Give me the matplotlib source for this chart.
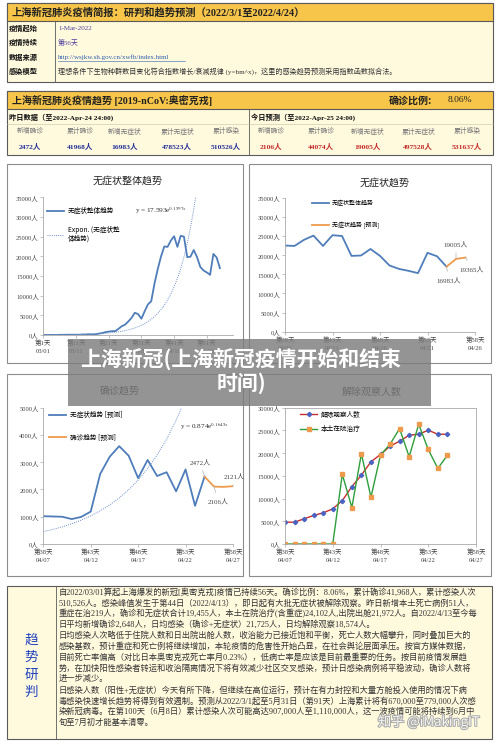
import matplotlib
matplotlib.use("Agg")
import matplotlib.pyplot as plt
from matplotlib.patches import Rectangle
from matplotlib.lines import Line2D
import matplotlib.patheffects as pe
import numpy as np

plt.rcParams['font.family'] = ['Noto Sans CJK SC', 'DejaVu Sans']
plt.rcParams['mathtext.fontset'] = 'stix'
SERIF = ['Liberation Serif', 'Noto Sans CJK SC', 'DejaVu Sans']

# ---------------- data ----------------
BRIEF_TITLE = "上海新冠肺炎疫情简报：研判和趋势预测（2022/3/1至2022/4/24）"
BRIEF_LABELS = ["疫情起始", "疫情持续", "数据来源", "感染模型"]
BRIEF_VALUES = ["1-Mar-2022", "第56天", "http://wsjkw.sh.gov.cn/xwfb/index.html",
                "理想条件下生物种群数目变化符合指数增长/衰减规律 (y=bm^x)，这里的感染趋势预测采用指数函数拟合法。"]
TREND_TITLE = "上海新冠肺炎疫情趋势 [2019-nCoV:奥密克戎]"
RATIO_LABEL = "确诊比例:"
RATIO_VALUE = "8.06%"
YEST_LABEL = "昨日数据（至2022-Apr-24 24:00)"
TODAY_LABEL = "今日预测（至2022-Apr-25 24:00)"
STAT_COLS = ["新增确诊", "累计确诊", "新增无症状", "累计无症状", "累计感染"]
YEST_VALUES = [2472, 41968, 16983, 478523, 510526]
TODAY_VALUES = [2106, 44074, 19005, 497528, 531637]

ASYM_DAYS = list(range(1, 56))
ASYM_VALUES = [1, 2, 3, 16, 0, 45, 51, 62, 76, 64, 78, 64, 128, 130, 197, 150, 203, 366, 492, 734,
               865, 977, 979, 1580, 2231, 2631, 3450, 4381, 5656, 5298, 4144,
               6051, 7788, 8581, 13086, 16766, 19982, 22500, 22400, 24000, 25100, 22400, 25200,
               25000, 19800, 19900, 21600, 19800, 17300, 16400, 15900, 15300, 20600, 19700, 16983]
TREND1_B, TREND1_M = 17.593, 0.1597
ASYM_FC_DAYS = [55, 56, 57]
ASYM_FC_VALUES = [16983, 19005, 19365]

CONF_DAYS = list(range(38, 56))
CONF_VALUES = [1020, 1010, 1000, 914, 994, 1189, 2573, 3200, 3590, 3238, 2417, 3084, 2494,
               2634, 1931, 2736, 1401, 2472]
TREND3_B, TREND3_M = 0.874, 0.1645
CONF_FC_DAYS = [55, 56, 57, 58]
CONF_FC_VALUES = [2472, 2106, 2095, 2121]

REL_DAYS = list(range(38, 56))
REL_VALUES = [4800, 4800, 5550, 6280, 6860, 7740, 9560, 12630, 15180, 18100, 19710, 21540,
              22630, 23940, 24160, 25040, 24160, 24160]
HOSP_VALUES = [0, 0, 0, 0, 0, 0, 15330, 8030, 19860, 10290, 19560, 21970, 25400, 19200,
               26350, 20800, 16640, 19490]

C1_XTICKS = [1, 11, 21, 31, 41, 51]
C1_XLABELS = ["第1天\n03/01", "第11天\n03/11", "第21天\n03/21", "第31天\n03/31", "第41天\n04/10", "第51天\n04/20"]
C2_XTICKS = [38, 43, 48, 53, 58]
C2_XLABELS = ["第38天\n04/06", "第43天\n04/11", "第48天\n04/16", "第53天\n04/21", "第58天\n04/26"]
C34_XLABELS = ["第38天\n04/07", "第43天\n04/12", "第48天\n04/17", "第53天\n04/22", "第58天\n04/27"]
Y_ASYM = [0, 5000, 10000, 15000, 20000, 25000, 30000, 35000]
Y_CONF = [0, 1000, 2000, 3000, 4000, 5000]
Y_REL = [0, 5000, 10000, 15000, 20000, 25000, 30000]

ANALYSIS_LINES = [
    "自2022/03/01算起上海爆发的新冠[奥密克戎]疫情已持续56天。确诊比例：8.06%，累计确诊41,968人，累计感染人次",
    "510,526人。感染峰值发生于第44日（2022/4/13），即日起有大批无症状被解除观察。昨日新增本土死亡病例51人，",
    "重症在治219人，确诊和无症状合计19,455人，本土在院治疗(含重症)24,102人,出院出舱21,972人。自2022/4/13至今每",
    "日平均新增确诊2,648人，日均感染（确诊+无症状）21,725人，日均解除观察18,574人。",
    "日均感染人次略低于住院人数和日出院出舱人数，收治能力已接近饱和平衡，死亡人数大幅攀升，同时叠加巨大的",
    "感染基数，预计重症和死亡例将继续增加，本轮疫情的危害性开始凸显，在社会舆论层面承压。按官方媒体数据，",
    "目前死亡率偏高（对比日本奥密克戎死亡率月0.23%），低病亡率是应该是目前最重要的任务。按目前疫情发展趋",
    "势，在加快阳性感染者转运和收治隔离情况下将有效减少社区交叉感染，预计日感染病例将平稳波动，确诊人数将",
    "进一步减少。",
    "日感染人数（阳性+无症状）今天有所下降，但继续在高位运行，预计在有力封控和大量方舱投入使用的情况下病",
    "毒感染快速增长趋势将得到有效遏制。预测从2022/3/1起至5月31日（第91天）上海累计将有670,000至779,000人次感",
    "染新冠病毒。在第100天（6月8日）累计感染人次可能高达907,000人至1,110,000人，这一波疫情可能将持续到6月中",
    "旬至7月初才能基本清零。",
]
SIDE_LABEL = ["趋", "势", "研", "判"]
OVERLAY_TEXT = "上海新冠(上海新冠疫情开始和结束\n时间)"
WATERMARK = "知乎 @iMakingIT"

# ---------------- layout ----------------
W, H = 500, 746
CREAM = '#FFF9DE'
GOLD = '#F6C54A'
EDGE = '#5a5a5a'
BLUE = '#4F7DBA'
ORANGE = '#EE9A4D'

fig = plt.figure(figsize=(W / 100, H / 100), dpi=100)
fig.patch.set_facecolor('white')
bg = fig.add_axes([0, 0, 1, 1])
bg.set_xlim(0, W); bg.set_ylim(H, 0); bg.axis('off')


def box(ax, x0, y0, x1, y1, fc='none', ec='none', lw=0.8, z=1, alpha=1.0):
    ax.add_patch(Rectangle((x0, y0), x1 - x0, y1 - y0, facecolor=fc, edgecolor=ec,
                           lw=lw, zorder=z, alpha=alpha))


def seg(ax, xs, ys, color=EDGE, lw=0.6):
    ax.add_line(Line2D(xs, ys, color=color, lw=lw, zorder=2))


# ---- panel 1 ----
box(bg, 7, 3, 493, 82, fc=CREAM, ec=EDGE)
box(bg, 7, 3, 493, 21, fc=GOLD, ec=EDGE)
seg(bg, [55, 55], [21, 82])
bg.text(12, 12.5, BRIEF_TITLE, fontsize=7.4, fontweight='bold', va='center', family=SERIF, color='#222', zorder=3)
row_y = [28, 42.5, 57, 71]
val_colors = ['#4B3FA0', '#4B3FA0', '#2F5FB0', '#333333']
for i, (lab, val) in enumerate(zip(BRIEF_LABELS, BRIEF_VALUES)):
    bg.text(9, row_y[i], lab, fontsize=5.2, fontweight='bold', va='center', color='#111', zorder=3)
    bg.text(58, row_y[i], val, fontsize=5.0 if i < 3 else 5.1, va='center', family=SERIF,
            color=val_colors[i], zorder=3)
seg(bg, [58, 185], [60.5, 60.5], color='#2F5FB0', lw=0.4)

# ---- panel 2 ----
box(bg, 7, 91, 493, 155, fc=CREAM, ec=EDGE)
box(bg, 7, 91, 493, 109, fc=GOLD, ec=EDGE)
seg(bg, [249, 249], [109, 155])
seg(bg, [7, 493], [124, 124], color='#c8c0a0', lw=0.4)
bg.text(12, 100.5, TREND_TITLE, fontsize=7.2, fontweight='bold', va='center', family=SERIF, color='#222', zorder=3)
bg.text(389, 100.5, RATIO_LABEL, fontsize=7.2, fontweight='bold', va='center', color='#222', zorder=3)
bg.text(448, 100.5, RATIO_VALUE, fontsize=6.8, va='center', family=SERIF, color='#222', zorder=3)
bg.text(9, 117.5, YEST_LABEL, fontsize=5.2, fontweight='bold', va='center', family=SERIF, color='#111', zorder=3)
bg.text(251, 117.5, TODAY_LABEL, fontsize=5.2, fontweight='bold', va='center', family=SERIF, color='#111', zorder=3)
left_cx = [30, 80, 125, 177, 226]
right_cx = [271, 321, 368, 418, 467]
for i, col in enumerate(STAT_COLS):
    bg.text(left_cx[i], 131.5, col, fontsize=4.9, ha='center', va='center', color='#777', zorder=3)
    bg.text(right_cx[i], 131.5, col, fontsize=4.9, ha='center', va='center', color='#777', zorder=3)
    bg.text(left_cx[i], 147, f"{YEST_VALUES[i]}人", fontsize=5.4, ha='center', va='center',
            family=SERIF, color='#23309A', fontweight='bold', zorder=3)
    bg.text(right_cx[i], 147, f"{TODAY_VALUES[i]}人", fontsize=5.4, ha='center', va='center',
            family=SERIF, color='#C42A28', fontweight='bold', zorder=3)

# ---- chart boxes ----
for (x0, y0, x1, y1) in [(7, 164, 243, 363), (249, 164, 491, 363), (7, 374, 243, 576), (249, 374, 491, 576)]:
    box(bg, x0, y0, x1, y1, fc='white', ec='#8c8c8c', lw=0.8)

titles = [("无症状整体趋势", 128, 181), ("无症状趋势", 385, 183), ("确诊趋势", 120, 391), ("解除观察人数", 372, 392)]
for t, x, y in titles:
    bg.text(x, y, t, fontsize=7.2, ha='center', va='center', color='#222', zorder=3)


def make_chart(x0, x1, ytop, ybot, xlim, ylim, yticks, xticks, xlabels, frame=False):
    ax = fig.add_axes([x0 / W, 1 - ybot / H, (x1 - x0) / W, (ybot - ytop) / H])
    ax.set_facecolor('none')
    ax.set_xlim(*xlim); ax.set_ylim(*ylim)
    ax.set_yticks(yticks)
    ax.set_yticklabels([f"{v}人" for v in yticks])
    ax.set_xticks(xticks)
    ax.set_xticklabels(xlabels)
    ax.spines['top'].set_visible(frame)
    ax.spines['right'].set_visible(frame)
    for s in ax.spines.values():
        s.set_color('#a8a8a8'); s.set_linewidth(0.6)
    ax.tick_params(axis='both', length=2, width=0.5, color='#a8a8a8', labelsize=4.7,
                   labelcolor='#444', pad=1.2)
    for t in ax.get_xticklabels() + ax.get_yticklabels():
        t.set_family(SERIF)
    for t in ax.get_xticklabels():
        t.set_linespacing(1.75)
    return ax


# chart 1
ax1 = make_chart(43.3, 233, 197.3, 335, (1, 59), (0, 35000), Y_ASYM, C1_XTICKS, C1_XLABELS)
l1, = ax1.plot(ASYM_DAYS, ASYM_VALUES, color=BLUE, lw=1.3)
trend1 = [TREND1_B * np.exp(TREND1_M * d) for d in ASYM_DAYS]
l1t, = ax1.plot(ASYM_DAYS, trend1, color='#6f8fc8', lw=0.7, ls=(0, (1, 1.2)))
ax1.legend([l1, l1t], ["无症状整体趋势", "Expon. (无症状整\n体趋势)"], loc='upper left',
           bbox_to_anchor=(47, 207), bbox_transform=bg.transData, frameon=False, fontsize=4.8,
           handlelength=2.6, handletextpad=0.5, labelspacing=1.6, borderpad=0, borderaxespad=0)
bg.text(135, 211, r"y = 17.593e$^{0.1597x}$", fontsize=5.2, va='center', family=SERIF, color='#333', zorder=3)

# chart 2
ax2 = make_chart(285, 475, 197.7, 331.7, (38, 58), (0, 35000), Y_ASYM, C2_XTICKS, C2_XLABELS)
l2, = ax2.plot(ASYM_DAYS[37:], ASYM_VALUES[37:], color=BLUE, lw=1.3)
l2f, = ax2.plot(ASYM_FC_DAYS, ASYM_FC_VALUES, color=ORANGE, lw=1.3)
ax2.legend([l2, l2f], ["无症状整体趋势", "无症状趋势 [预测]"], loc='upper left',
           bbox_to_anchor=(312, 200), bbox_transform=bg.transData, frameon=False, fontsize=4.3,
           handlelength=2.8, handletextpad=0.5, labelspacing=2.6, borderpad=0, borderaxespad=0)
ann_kw = dict(textcoords=bg.transData, fontsize=5, family=SERIF, color='#444', ha='center', va='center',
              arrowprops=dict(arrowstyle='-', color='#b0b0b0', lw=0.5, shrinkA=2, shrinkB=0))
ax2.annotate(f"{ASYM_FC_VALUES[1]}人", xy=(ASYM_FC_DAYS[1], ASYM_FC_VALUES[1]), xytext=(456, 244), **ann_kw)
ax2.annotate(f"{ASYM_FC_VALUES[2]}人", xy=(ASYM_FC_DAYS[2], ASYM_FC_VALUES[2]), xytext=(472, 269), **ann_kw)
ax2.annotate(f"{ASYM_FC_VALUES[0]}人", xy=(ASYM_FC_DAYS[0], ASYM_FC_VALUES[0]), xytext=(449, 280), **ann_kw)

# chart 3
ax3 = make_chart(43.3, 233, 407.7, 544, (38, 58), (0, 5000), Y_CONF, C2_XTICKS, C34_XLABELS)
l3, = ax3.plot(CONF_DAYS, CONF_VALUES, color=BLUE, lw=1.3)
l3f, = ax3.plot(CONF_FC_DAYS, CONF_FC_VALUES, color=ORANGE, lw=1.3)
trend3 = [TREND3_B * np.exp(TREND3_M * d) for d in CONF_DAYS]
ax3.plot(CONF_DAYS, trend3, color='#6f8fc8', lw=0.7, ls=(0, (1, 1.2)))
ax3.legend([l3, l3f], ["无症状趋势 [预测]", "确诊趋势 [预测]"], loc='upper left',
           bbox_to_anchor=(49, 411), bbox_transform=bg.transData, frameon=False, fontsize=4.8,
           handlelength=2.6, handletextpad=0.5, labelspacing=2.2, borderpad=0, borderaxespad=0)
bg.text(180, 427, r"y = 0.874e$^{0.1645x}$", fontsize=5.2, va='center', family=SERIF, color='#333', zorder=3)
ax3.annotate(f"{CONF_FC_VALUES[0]}人", xy=(CONF_FC_DAYS[0], CONF_FC_VALUES[0]), xytext=(200, 462), **ann_kw)
ax3.annotate(f"{CONF_FC_VALUES[1]}人", xy=(CONF_FC_DAYS[1], CONF_FC_VALUES[1]), xytext=(218, 501), **ann_kw)
ax3.annotate(f"{CONF_FC_VALUES[3]}人", xy=(CONF_FC_DAYS[3], CONF_FC_VALUES[3]), xytext=(234, 476), **ann_kw)

# chart 4
ax4 = make_chart(285, 476, 407.7, 544, (38, 58), (0, 30000), Y_REL, C2_XTICKS, C34_XLABELS, frame=True)
l4, = ax4.plot(REL_DAYS, REL_VALUES, color='#C8302C', lw=1.0, marker='D', ms=2.2,
               mfc='#4A63C0', mec='#4A63C0')
l4b, = ax4.plot(REL_DAYS, HOSP_VALUES, color='#2E9E3A', lw=1.0, marker='s', ms=3.0,
                mfc='#EE9A4D', mec='#EE9A4D')
ax4.legend([l4, l4b], ["解除观察人数", "本土在院治疗"], loc='upper left',
           bbox_to_anchor=(300, 410.5), bbox_transform=bg.transData, frameon=False, fontsize=4.8,
           handlelength=2.6, handletextpad=0.5, labelspacing=1.0, borderpad=0, borderaxespad=0)

# ---- bottom analysis panel ----
box(bg, 7, 586, 492, 739, fc=CREAM, ec=EDGE)
seg(bg, [56, 56], [586, 739])
for i, ch in enumerate(SIDE_LABEL):
    bg.text(31, 640 + i * 17.3, ch, fontsize=9.8, ha='center', va='center', color='#2244C0', zorder=3)
for i, line in enumerate(ANALYSIS_LINES):
    bg.text(58.5, 592.3 + i * 10.87, line, fontsize=5.95, va='center', family=SERIF, color='#333', zorder=3)

# ---- overlay on top ----
top = fig.add_axes([0, 0, 1, 1], zorder=10)
top.set_xlim(0, W); top.set_ylim(H, 0); top.axis('off'); top.patch.set_alpha(0)
box(top, 68, 339, 431, 406, fc='#7d7d7d', alpha=0.82)
top.text(241, 371, OVERLAY_TEXT, fontsize=15, fontweight='bold', ha='center', va='center',
         multialignment='center', linespacing=1.15, color='white', zorder=5)
top.text(429, 722, WATERMARK, fontsize=9.5, ha='center', va='center', color='white', alpha=0.9,
         path_effects=[pe.withStroke(linewidth=1.4, foreground='#a0a0a0')], zorder=5)

fig.savefig("out.png", dpi=100, facecolor='white')
